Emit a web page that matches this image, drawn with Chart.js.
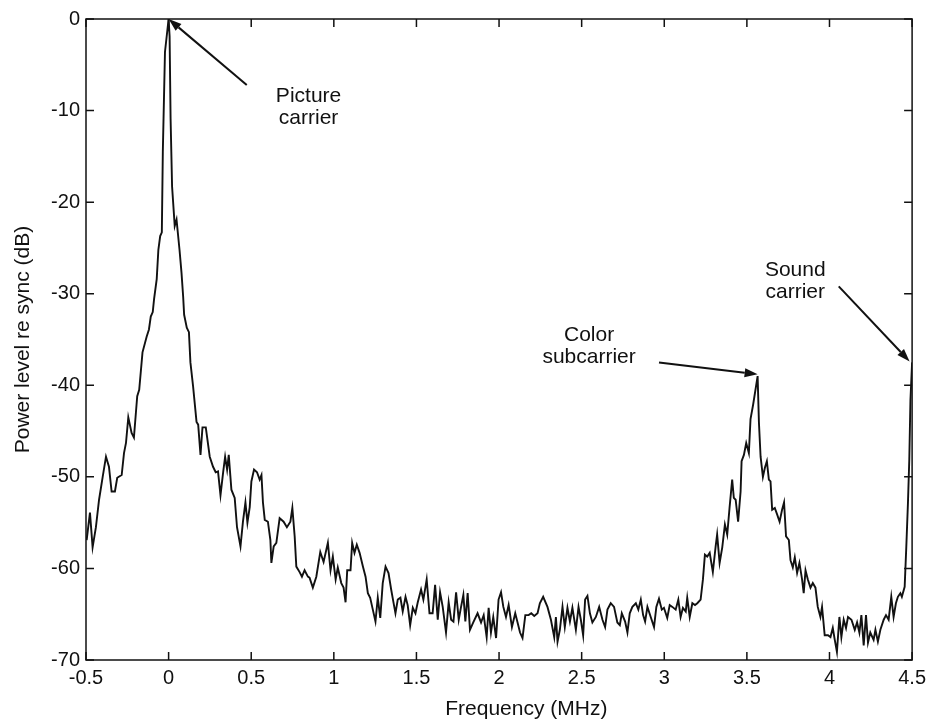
<!DOCTYPE html>
<html>
<head>
<meta charset="utf-8">
<title>Video signal spectrum</title>
<script src="https://cdn.jsdelivr.net/npm/chart.js@4.4.0/dist/chart.umd.min.js"></script>
<style>
  html, body { margin: 0; padding: 0; background: #fff; }
  canvas { display: block; }
</style>
</head>
<body>
<canvas id="spectrum" width="932" height="720"></canvas>
<script>
// Frequency (MHz) and power level re sync (dB) of the measured spectrum
const freq = [
  -0.496, -0.476, -0.460, -0.440, -0.421, -0.399, -0.379, -0.361, -0.345, -0.325,
  -0.311, -0.284, -0.270, -0.258, -0.244, -0.224, -0.210, -0.198, -0.190, -0.178,
  -0.158, -0.133, -0.119, -0.108, -0.096, -0.088, -0.072, -0.062, -0.051, -0.041,
  -0.035, -0.022, 0.000, 0.006, 0.012, 0.021, 0.037, 0.048, 0.066, 0.078,
  0.088, 0.094, 0.110, 0.123, 0.132, 0.148, 0.169, 0.179, 0.193, 0.205,
  0.225, 0.249, 0.269, 0.285, 0.299, 0.314, 0.330, 0.342, 0.354, 0.364,
  0.380, 0.400, 0.414, 0.435, 0.450, 0.465, 0.477, 0.491, 0.501, 0.517,
  0.535, 0.551, 0.562, 0.571, 0.582, 0.601, 0.616, 0.622, 0.636, 0.652,
  0.672, 0.696, 0.716, 0.737, 0.749, 0.763, 0.773, 0.793, 0.807, 0.823,
  0.843, 0.853, 0.873, 0.894, 0.918, 0.938, 0.964, 0.980, 0.994, 1.011,
  1.024, 1.045, 1.059, 1.071, 1.081, 1.101, 1.111, 1.125, 1.139, 1.156,
  1.176, 1.192, 1.206, 1.220, 1.236, 1.252, 1.266, 1.281, 1.296, 1.313,
  1.331, 1.347, 1.361, 1.373, 1.387, 1.403, 1.417, 1.434, 1.447, 1.462,
  1.478, 1.494, 1.508, 1.528, 1.542, 1.562, 1.579, 1.598, 1.613, 1.629,
  1.643, 1.659, 1.679, 1.695, 1.710, 1.724, 1.740, 1.756, 1.770, 1.784,
  1.796, 1.810, 1.824, 1.844, 1.870, 1.891, 1.907, 1.925, 1.937, 1.951,
  1.965, 1.982, 1.997, 2.012, 2.026, 2.042, 2.058, 2.078, 2.098, 2.112,
  2.127, 2.142, 2.159, 2.179, 2.195, 2.213, 2.233, 2.247, 2.267, 2.293,
  2.314, 2.334, 2.344, 2.354, 2.368, 2.384, 2.398, 2.414, 2.429, 2.444,
  2.465, 2.481, 2.495, 2.509, 2.521, 2.535, 2.550, 2.565, 2.586, 2.606,
  2.626, 2.642, 2.656, 2.676, 2.696, 2.716, 2.731, 2.743, 2.763, 2.777,
  2.791, 2.807, 2.828, 2.843, 2.858, 2.872, 2.884, 2.898, 2.918, 2.938,
  2.952, 2.968, 2.985, 2.998, 3.018, 3.033, 3.049, 3.069, 3.085, 3.099,
  3.113, 3.130, 3.139, 3.154, 3.170, 3.186, 3.200, 3.220, 3.234, 3.246,
  3.260, 3.275, 3.294, 3.311, 3.320, 3.335, 3.351, 3.367, 3.381, 3.395,
  3.411, 3.421, 3.432, 3.447, 3.462, 3.468, 3.482, 3.496, 3.512, 3.522,
  3.538, 3.565, 3.573, 3.583, 3.597, 3.609, 3.621, 3.633, 3.643, 3.653,
  3.669, 3.683, 3.698, 3.713, 3.725, 3.737, 3.754, 3.764, 3.778, 3.790,
  3.804, 3.818, 3.834, 3.844, 3.855, 3.869, 3.885, 3.899, 3.915, 3.929,
  3.945, 3.955, 3.971, 3.991, 4.006, 4.020, 4.032, 4.045, 4.060, 4.072,
  4.086, 4.100, 4.112, 4.133, 4.153, 4.167, 4.181, 4.193, 4.207, 4.221,
  4.233, 4.247, 4.267, 4.278, 4.293, 4.308, 4.328, 4.342, 4.358, 4.374,
  4.388, 4.402, 4.414, 4.429, 4.438, 4.455, 4.465, 4.475, 4.483, 4.490,
  4.500
];

const power = [
  -56.9, -53.9, -57.7, -55.5, -52.5, -50.0, -47.8, -48.9, -51.6, -51.6,
  -50.1, -49.8, -47.4, -46.3, -43.5, -45.2, -45.7, -43.0, -41.2, -40.5,
  -36.4, -34.7, -33.9, -32.5, -32.0, -30.6, -28.4, -25.2, -23.7, -23.3,
  -14.5, -3.6, 0.0, -1.9, -10.9, -18.3, -22.6, -21.9, -25.2, -27.7,
  -30.3, -32.3, -33.7, -34.2, -37.5, -40.1, -44.0, -44.3, -47.6, -44.6,
  -44.6, -47.8, -48.9, -49.5, -49.4, -52.0, -49.5, -47.8, -49.2, -47.6,
  -51.4, -52.3, -55.5, -57.6, -54.9, -52.8, -55.0, -53.3, -50.5, -49.2,
  -49.5, -50.3, -49.8, -52.8, -54.7, -54.9, -56.9, -59.4, -57.6, -57.2,
  -54.5, -54.9, -55.5, -54.9, -53.4, -56.5, -59.8, -60.4, -60.9, -60.2,
  -60.9, -61.0, -62.1, -60.9, -58.2, -59.3, -57.2, -60.2, -58.7, -61.2,
  -59.9, -61.6, -62.1, -63.7, -60.2, -60.2, -57.2, -58.3, -57.4, -58.3,
  -59.8, -60.9, -62.7, -63.2, -64.5, -65.8, -63.2, -65.4, -61.6, -59.8,
  -60.5, -62.3, -63.7, -64.9, -63.4, -63.2, -64.7, -63.1, -64.0, -66.2,
  -64.3, -64.9, -63.7, -62.3, -63.4, -61.2, -64.9, -64.9, -61.8, -65.6,
  -62.6, -64.2, -67.0, -63.7, -65.6, -65.8, -62.6, -65.6, -64.2, -62.9,
  -65.8, -62.7, -66.7, -65.9, -64.9, -65.9, -65.1, -67.5, -64.3, -67.0,
  -65.3, -67.6, -63.4, -62.6, -64.2, -65.3, -64.0, -66.4, -64.9, -65.9,
  -67.0, -67.6, -65.1, -65.1, -64.9, -65.2, -64.9, -63.8, -63.1, -64.2,
  -65.6, -67.5, -65.3, -68.0, -66.7, -64.2, -66.4, -64.3, -65.8, -64.3,
  -66.7, -64.2, -65.6, -67.3, -63.4, -63.0, -64.9, -65.9, -65.3, -64.2,
  -65.6, -66.4, -64.5, -63.8, -64.2, -65.9, -66.2, -64.9, -65.8, -67.0,
  -64.9, -64.2, -63.8, -64.5, -63.4, -65.1, -65.8, -64.2, -65.3, -66.4,
  -64.2, -63.3, -64.5, -64.3, -65.4, -64.0, -64.2, -64.5, -63.4, -65.3,
  -64.3, -64.7, -63.2, -65.3, -63.8, -64.0, -63.8, -63.4, -61.2, -58.5,
  -58.7, -58.3, -60.4, -57.6, -56.3, -59.4, -57.7, -55.2, -56.3, -53.4,
  -50.3, -52.3, -52.5, -54.9, -51.6, -48.3, -47.6, -46.3, -47.4, -43.7,
  -42.1, -39.0, -44.1, -47.8, -50.0, -49.0, -48.3, -50.3, -50.5, -53.6,
  -53.4, -54.1, -54.9, -53.6, -52.8, -56.5, -56.9, -59.1, -59.9, -58.8,
  -60.5, -59.4, -61.2, -62.7, -60.2, -61.2, -62.1, -61.6, -62.1, -64.2,
  -65.3, -64.2, -67.3, -67.3, -67.5, -66.5, -67.8, -69.1, -65.3, -67.5,
  -65.6, -66.5, -65.3, -65.6, -66.7, -65.9, -67.0, -65.1, -68.4, -65.1,
  -68.1, -67.0, -67.8, -66.7, -68.0, -66.7, -65.6, -65.1, -65.6, -63.1,
  -65.3, -63.8, -63.1, -62.7, -63.1, -62.0, -57.6, -52.8, -48.1, -41.6,
  -37.5
];

const freqTicks = [-0.5, 0, 0.5, 1, 1.5, 2, 2.5, 3, 3.5, 4, 4.5];
const powerTicks = [0, -10, -20, -30, -40, -50, -60, -70];

// labelled carriers: text centre / first baseline, arrow tail and head (MHz, dB)
const notes = [
  { lines: ['Picture', 'carrier'], at: [0.847, -9.1], tail: [0.473, -7.2], head: [0.0, 0.0] },
  { lines: ['Color', 'subcarrier'], at: [2.545, -35.2], tail: [2.968, -37.5], head: [3.565, -38.8] },
  { lines: ['Sound', 'carrier'], at: [3.793, -28.1], tail: [4.056, -29.2], head: [4.485, -37.4] }
];

const FONT = '"Liberation Sans", Arial, Helvetica, sans-serif';
const INK = '#111';

function drawArrow(ctx, x0, y0, x1, y1) {
  const ang = Math.atan2(y1 - y0, x1 - x0);
  const len = 13, half = 4.5;
  const bx = x1 - len * Math.cos(ang), by = y1 - len * Math.sin(ang);
  ctx.beginPath();
  ctx.moveTo(x0, y0);
  ctx.lineTo(bx, by);
  ctx.lineWidth = 2;
  ctx.stroke();
  ctx.beginPath();
  ctx.moveTo(x1, y1);
  ctx.lineTo(bx + half * Math.sin(ang), by - half * Math.cos(ang));
  ctx.lineTo(bx - half * Math.sin(ang), by + half * Math.cos(ang));
  ctx.closePath();
  ctx.fill();
}

// box round the plot, inward ticks on all sides, x title and the carrier notes
const framePlugin = {
  id: 'frame',
  afterDraw(chart) {
    const { ctx, chartArea: a } = chart;
    const x = chart.scales.x, y = chart.scales.y;
    ctx.save();
    ctx.strokeStyle = INK;
    ctx.fillStyle = INK;
    ctx.lineWidth = 1.5;
    ctx.strokeRect(a.left, a.top, a.right - a.left, a.bottom - a.top);

    const t = 8;
    ctx.beginPath();
    freqTicks.forEach(v => {
      const px = x.getPixelForValue(v);
      ctx.moveTo(px, a.bottom); ctx.lineTo(px, a.bottom - t);
      ctx.moveTo(px, a.top); ctx.lineTo(px, a.top + t);
    });
    powerTicks.forEach(v => {
      const py = y.getPixelForValue(v);
      ctx.moveTo(a.left, py); ctx.lineTo(a.left + t, py);
      ctx.moveTo(a.right, py); ctx.lineTo(a.right - t, py);
    });
    ctx.stroke();

    ctx.font = '21px ' + FONT;
    ctx.textAlign = 'center';
    ctx.textBaseline = 'alphabetic';
    ctx.fillText('Frequency (MHz)', x.getPixelForValue(2.165), a.bottom + 55);

    notes.forEach(n => {
      const cx = x.getPixelForValue(n.at[0]);
      const by = y.getPixelForValue(n.at[1]);
      n.lines.forEach((s, i) => ctx.fillText(s, cx, by + i * 21.5));
      drawArrow(ctx,
        x.getPixelForValue(n.tail[0]), y.getPixelForValue(n.tail[1]),
        x.getPixelForValue(n.head[0]), y.getPixelForValue(n.head[1]));
    });
    ctx.restore();
  }
};

const points = freq.map((f, i) => ({ x: f, y: power[i] }));

new Chart(document.getElementById('spectrum'), {
  type: 'scatter',
  data: {
    datasets: [{
      data: points,
      showLine: true,
      borderColor: INK,
      borderWidth: 1.9,
      pointRadius: 0,
      tension: 0
    }]
  },
  options: {
    responsive: false,
    animation: false,
    layout: { padding: { top: 19, right: 19, left: 0, bottom: 0 } },
    plugins: { legend: { display: false }, tooltip: { enabled: false } },
    scales: {
      x: {
        type: 'linear',
        min: -0.5,
        max: 4.5,
        grid: { display: false, drawTicks: false },
        border: { display: false },
        afterBuildTicks: s => { s.ticks = freqTicks.map(v => ({ value: v })); },
        afterFit: s => { s.height = 60; },
        ticks: {
          autoSkip: false,
          maxRotation: 0,
          padding: 6,
          color: INK,
          font: { family: FONT, size: 20 },
          callback: v => String(Math.round(v * 10) / 10)
        }
      },
      y: {
        min: -70,
        max: 0,
        grid: { display: false, drawTicks: false },
        border: { display: false },
        afterBuildTicks: s => { s.ticks = powerTicks.map(v => ({ value: v })); },
        afterFit: s => { s.width = 86; },
        ticks: {
          autoSkip: false,
          padding: 6,
          color: INK,
          font: { family: FONT, size: 20 },
          callback: v => String(Math.round(v))
        },
        title: {
          display: true,
          text: 'Power level re sync (dB)',
          color: INK,
          font: { family: FONT, size: 21 },
          padding: { top: 11, bottom: 0 }
        }
      }
    }
  },
  plugins: [framePlugin]
});
</script>
</body>
</html>
